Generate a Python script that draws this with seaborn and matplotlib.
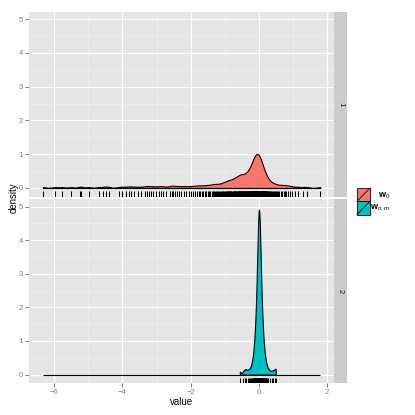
import numpy as np
import pandas as pd
import matplotlib
matplotlib.use("Agg")
import matplotlib.pyplot as plt
import seaborn as sns
from matplotlib.patches import Rectangle
from matplotlib.lines import Line2D

w0_values = [
    -6.33, -5.97, -5.77, -5.51, -5.25, -5.20, -4.99, -4.70, -4.56, -4.48,
    -4.40, -4.10, -4.01, -3.90, -3.81, -3.74, -3.65, -3.55, -3.45, -3.35,
    -3.29, -3.23, -3.16, -3.09, -3.01, -2.93, -2.86, -2.81, -2.71, -2.62,
    -2.56, -2.52,
    -2.47, -2.40, -2.33, -2.27, -2.20, -2.13, -2.06, -1.99, -1.93,
    -1.87, -1.82, -1.77, -1.73, -1.68, -1.63, -1.58, -1.54, -1.50, -1.46, -1.42,
    -1.38, -1.35, -1.32, -1.29, -1.26, -1.23, -1.20, -1.17, -1.14, -1.11,
    -1.08, -1.06, -1.04, -1.02, -1.00, -0.98, -0.96, -0.94, -0.92, -0.91,
    -0.895, -0.88, -0.865, -0.85, -0.835, -0.82, -0.805, -0.79, -0.775, -0.76,
    -0.745, -0.734, -0.722, -0.711, -0.699, -0.688, -0.676, -0.665, -0.653,
    -0.642, -0.630, -0.619, -0.607,
    -0.598, -0.590, -0.581, -0.573, -0.564, -0.556, -0.547, -0.539, -0.530,
    -0.522, -0.513, -0.505, -0.496, -0.488, -0.479, -0.471, -0.462,
    -0.446, -0.438, -0.429, -0.421, -0.413, -0.404, -0.396, -0.388, -0.379,
    -0.371, -0.363, -0.354,
    -0.347, -0.340, -0.333, -0.325, -0.318, -0.311, -0.304, -0.297, -0.290,
    -0.283, -0.275, -0.268, -0.261, -0.254,
    -0.248, -0.243, -0.238, -0.233, -0.229, -0.224, -0.219, -0.214, -0.210,
    -0.205, -0.200, -0.195, -0.190, -0.186, -0.181, -0.176, -0.171, -0.167,
    -0.162, -0.157, -0.152,
    -0.148, -0.145, -0.141, -0.138, -0.135, -0.131, -0.128, -0.124, -0.121,
    -0.117, -0.114, -0.111, -0.107, -0.104, -0.100, -0.097, -0.093, -0.090,
    -0.086, -0.083, -0.080, -0.076, -0.073, -0.069, -0.066, -0.062, -0.059,
    -0.055, -0.052, -0.049,
    -0.046, -0.042, -0.039, -0.035, -0.032, -0.028, -0.025, -0.021, -0.018,
    -0.014, -0.011, -0.007, -0.004, 0.000, 0.003, 0.007, 0.010, 0.014, 0.017,
    0.021, 0.024, 0.028, 0.031, 0.035, 0.038, 0.041, 0.044, 0.047, 0.050,
    0.055, 0.060, 0.065, 0.071, 0.076, 0.081, 0.086, 0.091, 0.097, 0.102,
    0.107, 0.112, 0.117, 0.123, 0.128, 0.133, 0.138, 0.143, 0.148,
    0.155, 0.164, 0.173, 0.182, 0.191, 0.200, 0.209, 0.218, 0.227, 0.236, 0.245,
    0.258, 0.275, 0.292, 0.308, 0.325, 0.342,
    0.36, 0.385, 0.41, 0.435, 0.46, 0.485,
    0.52, 0.56, 0.60, 0.64, 0.68, 0.72, 0.76, 0.80,
    0.85, 0.90, 0.96,
    1.06, 1.15, 1.29, 1.40, 1.80,
]

# w_{n,m} coefficients (facet "2"), tightly packed around 0
wnm_values = [
    -0.56, -0.46, -0.41, -0.38, -0.33, -0.29, -0.252, -0.226, -0.206, -0.190,
    -0.177, -0.166, -0.156, -0.148, -0.141, -0.134, -0.128, -0.122, -0.117,
    -0.112, -0.108, -0.104, -0.100, -0.096, -0.092, -0.089, -0.086, -0.083,
    -0.080, -0.077, -0.074, -0.071, -0.069, -0.066, -0.064, -0.062, -0.060,
    -0.057, -0.055, -0.053, -0.051, -0.050, -0.048, -0.046, -0.044, -0.042,
    -0.041, -0.039, -0.038, -0.036, -0.035, -0.033, -0.032, -0.030, -0.029,
    -0.027, -0.026, -0.025, -0.023, -0.022, -0.021, -0.019, -0.018, -0.017,
    -0.016, -0.015, -0.014, -0.012, -0.011, -0.010, -0.009, -0.008, -0.007,
    -0.006, -0.005, -0.004, -0.003, -0.002, 0.000,
    0.001, 0.001, 0.002, 0.003, 0.004, 0.005, 0.006, 0.007, 0.008, 0.010,
    0.011, 0.012, 0.013, 0.014, 0.015, 0.016, 0.017, 0.019, 0.020, 0.021,
    0.022, 0.024, 0.025, 0.026, 0.028, 0.029, 0.031, 0.032, 0.034, 0.035,
    0.037, 0.038, 0.040, 0.041, 0.043, 0.045, 0.047, 0.049, 0.050, 0.052,
    0.054, 0.056, 0.059, 0.061, 0.063, 0.065, 0.068, 0.070, 0.073, 0.076,
    0.078, 0.081, 0.084, 0.088, 0.091, 0.094, 0.098, 0.102, 0.106, 0.110,
    0.115, 0.120, 0.125, 0.131, 0.138, 0.145, 0.152, 0.161, 0.171, 0.183,
    0.197, 0.215, 0.238, 0.27, 0.31, 0.37, 0.42, 0.47, 0.49,
]

facet_labels = ["1", "2"]
series_labels = [r"$\mathbf{w}_{0}$", r"$\mathbf{w}_{n,m}$"]
series_colors = ["#F8766D", "#00BFC4"]
kernel_bw = [0.07, 0.03]  # absolute kernel bandwidth per facet
x_ticks = [-6, -4, -2, 0, 2]
y_ticks = [0, 1, 2, 3, 4, 5]

df = pd.concat([
    pd.DataFrame({"value": w0_values, "panel": facet_labels[0]}),
    pd.DataFrame({"value": wnm_values, "panel": facet_labels[1]}),
], ignore_index=True)

plt.rcParams["font.family"] = "Liberation Sans"
plt.rcParams["mathtext.fontset"] = "custom"
plt.rcParams["mathtext.rm"] = "Liberation Sans"
plt.rcParams["mathtext.bf"] = "Liberation Sans:bold"
plt.rcParams["mathtext.it"] = "Liberation Sans:italic"

W = 415
fig = plt.figure(figsize=(W / 72, W / 72), dpi=72)

lo, hi = df["value"].min(), df["value"].max()
pad = 0.05 * (hi - lo)

panel_boxes = [
    (29 / W, (W - 196.7) / W, 305.3 / W, 185 / W),
    (29 / W, (W - 383.3) / W, 305.3 / W, 184 / W),
]

for i, panel in enumerate(facet_labels):
    sub = df[df["panel"] == panel]["value"].to_numpy()
    ax = fig.add_axes(panel_boxes[i])
    ax.set_facecolor("#E5E5E5")
    for s in ax.spines.values():
        s.set_visible(False)

    ax.set_xticks(x_ticks)
    ax.set_xticks([t + 1 for t in x_ticks[:-1]], minor=True)
    ax.set_yticks(y_ticks)
    ax.set_yticks([t + 0.5 for t in y_ticks[:-1]], minor=True)
    ax.grid(which="major", color="white", lw=1.1)
    ax.grid(which="minor", color="#F2F2F2", lw=0.55)
    ax.set_axisbelow(True)

    # flat density outline over the full data range (as ggplot does)
    ax.hlines(0, lo, hi, color="black", lw=1.1, zorder=2)
    sns.kdeplot(x=sub, ax=ax, fill=True, color=series_colors[i], alpha=1,
                edgecolor="black", linewidth=1.1, cut=0, gridsize=1000,
                bw_method=kernel_bw[i] / np.std(sub, ddof=1), zorder=3)
    sns.rugplot(x=sub, ax=ax, height=0.03, color="black", lw=1.4,
                expand_margins=False)

    ax.set_xlim(lo - pad, hi + pad)
    ax.set_ylim(-0.26, 5.22)
    ax.set_xlabel("")
    ax.set_ylabel("")
    ax.tick_params(which="major", length=4, width=1, color="#7F7F7F",
                   labelcolor="#7F7F7F", labelsize=7.7, pad=2)
    ax.tick_params(which="minor", length=0)
    if i == 0:
        ax.tick_params(axis="x", which="major", length=0, labelbottom=False)

    strip = fig.add_axes((334.3 / W, panel_boxes[i][1], 12.4 / W, panel_boxes[i][3]))
    strip.set_facecolor("#CCCCCC")
    strip.set_xticks([])
    strip.set_yticks([])
    for s in strip.spines.values():
        s.set_visible(False)
    strip.text(0.5, 0.5, panel, rotation=-90, ha="center", va="center",
               fontsize=7.7, color="#1A1A1A", transform=strip.transAxes)

fig.text(181.5 / W, (W - 402) / W, "value", ha="center", va="center", fontsize=9.6)
fig.text(13.5 / W, (W - 197.5) / W, "density", ha="center", va="center",
         rotation=90, fontsize=9.6)

# legend keys
key_tops = [188.0, 201.3]
label_y = [195.7, 208.0]
for k in range(len(series_labels)):
    x0 = 357 / W
    y0 = (W - key_tops[k] - 13.3) / W
    fig.patches.append(Rectangle((x0, y0), 13 / W, 13.3 / W, transform=fig.transFigure,
                                 facecolor=series_colors[k], edgecolor="black", lw=0.8))
    fig.lines.append(Line2D([x0, x0 + 13 / W], [y0, y0 + 13.3 / W],
                            transform=fig.transFigure, color="black", lw=0.8))
    fig.text(390.5 / W, (W - label_y[k]) / W, series_labels[k], ha="right", va="center",
             fontsize=9)

fig.savefig("out.png", dpi=72)
